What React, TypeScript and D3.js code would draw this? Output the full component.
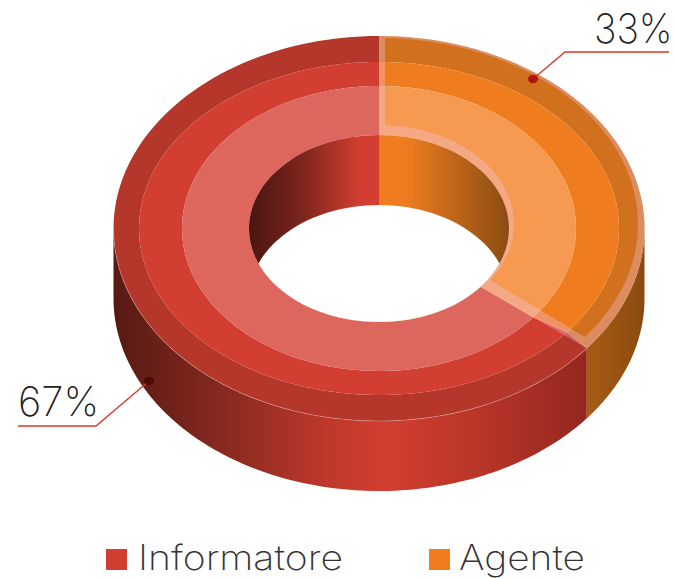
import React from "react";
import * as d3 from "d3";

const categories = ["Informatore", "Agente"];
const shares = [67, 33];
const shareLabels = ["67%", "33%"];
const redTones = { wall: "#5a1a14", rim: "#b5372b", band: "#d23e31", face: "#de675d", end: "#96281f" };
const orangeTones = { wall: "#a85c14", rim: "#d2711d", band: "#ef7d20", face: "#f59a50", end: "#8a4a10" };
const rimEllipse = [265.5, 192.5];
const bandEllipse = [240, 166.5];
const faceEllipse = [197, 142.5];
const holeEllipse = [130, 93.5];
const insetRim = [259, 186];
const insetHole = [135, 99];

const W = 674, H = 578;
const cx = 379, cy = 228.5, depth = 70, insetLift = -4.5;
// The picture's tilt stretches the 33% slice: its edge lands at 128.5° on the ellipse.
const angle = d3.scaleLinear().domain([0, shares[1], 100]).range([0, (128.5 * Math.PI) / 180, 2 * Math.PI]);
const A0 = angle(0), A1 = angle(shares[1]), A2 = angle(100);

const pt = (e: number[], a: number, dy = 0): [number, number] => [cx + e[0] * Math.sin(a), cy - e[1] * Math.cos(a) + dy];
const arcPts = (e: number[], a0: number, a1: number, dy = 0) =>
  d3.range(0, 121).map((i) => pt(e, a0 + ((a1 - a0) * i) / 120, dy));
const line = d3.line();
const sector = (o: number[], i: number[], a0: number, a1: number) =>
  line([...arcPts(o, a0, a1), ...arcPts(i, a1, a0)]) + "Z";
const wall = (e: number[], a0: number, a1: number) =>
  line([...arcPts(e, a0, a1), ...arcPts(e, a1, a0, depth)]) + "Z";
const ellipse = (e: number[], dy = 0) => line(arcPts(e, 0, 2 * Math.PI, dy)) + "Z";

// Inner outline of the pale edge on the orange slice
const insetShape =
  line([
    ...arcPts(insetRim, Math.asin(6 / insetRim[0]), Math.atan2(206 / insetRim[0], -(337 - cy - insetLift) / insetRim[1]), insetLift),
    ...arcPts(insetHole, Math.atan2(111 / insetHole[0], -(280 - cy - insetLift) / insetHole[1]), Math.asin(6 / insetHole[0]), insetLift),
  ]) + "Z";

const x = (v: number) => v / W;

function Stops({ id, stops }: { id: string; stops: [number, string][] }) {
  return (
    <linearGradient id={id} gradientUnits="userSpaceOnUse" x1={0} x2={W} y1={0} y2={0}>
      {stops.map(([p, c], i) => (
        <stop key={i} offset={x(p)} stopColor={c} />
      ))}
    </linearGradient>
  );
}

function Leader({ points, dot, label, tx, ty }: { points: [number, number][]; dot: [number, number]; label: string; tx: number; ty: number }) {
  return (
    <g>
      <path d={line(points)!} fill="none" stroke="#d93a2e" strokeWidth={1.4} />
      <ellipse cx={dot[0]} cy={dot[1]} rx={5} ry={4.2} fill={label === "33%" ? "#b3140a" : "#4a0a06"} />
      <text x={tx} y={ty} fontFamily="Inter, Lato, sans-serif" fontWeight={200} fontSize={41} fill="#222" textLength={label === "33%" ? 78.5 : 81} lengthAdjust="spacingAndGlyphs">
        {label}
      </text>
    </g>
  );
}

export default function App() {
  const bandsRed: [number[], number[], string][] = [
    [rimEllipse, bandEllipse, redTones.rim],
    [bandEllipse, faceEllipse, redTones.band],
    [faceEllipse, holeEllipse, redTones.face],
  ];
  const bandsOrange: [number[], number[], string][] = [
    [rimEllipse, bandEllipse, orangeTones.rim],
    [bandEllipse, faceEllipse, orangeTones.band],
    [faceEllipse, holeEllipse, orangeTones.face],
  ];
  const orangeTop = sector(rimEllipse, holeEllipse, A0, A1);
  return (
    <svg width={W} height={H} viewBox={`0 0 ${W} ${H}`} style={{ position: "absolute", left: 0, top: 0, background: "#fff" }}>
      <defs>
        <Stops id="wallRed" stops={[[113, "#561a13"], [230, "#8a2a20"], [330, "#c0382b"], [385, "#d23e31"], [470, "#bc362a"], [586, "#94271f"]]} />
        <Stops id="wallOrange" stops={[[586, "#a85c14"], [644, "#8a4a10"]]} />
        <Stops id="innerRed" stops={[[249, "#4a1512"], [300, "#7a241c"], [360, "#d23e31"], [379, "#d23e31"]]} />
        <Stops id="innerOrange" stops={[[379, "#ef7d20"], [405, "#ef7d20"], [509, "#8a4c12"]]} />
        <clipPath id="holeClip"><path d={ellipse(holeEllipse)} /></clipPath>
      </defs>

      <path d={wall(rimEllipse, A1, (3 * Math.PI) / 2)} fill="url(#wallRed)" />
      <path d={wall(rimEllipse, Math.PI / 2, A1)} fill="url(#wallOrange)" />

      {bandsRed.map(([o, i, c], k) => (
        <path key={k} d={sector(o, i, A1, A2)} fill={c} />
      ))}
      {bandsOrange.map(([o, i, c], k) => (
        <path key={k} d={sector(o, i, A0, A1)} fill={c} />
      ))}
      <path d={orangeTop + insetShape} fill="#f4c9ff" fillOpacity={0.3} fillRule="evenodd" />
      <path d={line(arcPts(rimEllipse, A1, (3 * Math.PI) / 2))!} fill="none" stroke="#fff" strokeOpacity={0.35} strokeWidth={0.7} />

      <g clipPath="url(#holeClip)">
        <rect x={cx - 140} y={cy - 100} width={140} height={220} fill="url(#innerRed)" />
        <rect x={cx} y={cy - 100} width={140} height={220} fill="url(#innerOrange)" />
        <path d={ellipse(holeEllipse, depth)} fill="#fff" />
      </g>

      <Leader points={[[533, 79], [565, 52], [669, 52]]} dot={[533, 79]} label={shareLabels[1]} tx={594} ty={43} />
      <Leader points={[[149, 381], [96, 426], [18, 426]]} dot={[149, 381]} label={shareLabels[0]} tx={18} ty={416} />

      <rect x={106} y={549} width={21} height={21} fill={redTones.band} />
      <text x={138} y={570} fontFamily="Inter, Lato, sans-serif" fontWeight={200} fontSize={35} fill="#333" textLength={205} lengthAdjust="spacingAndGlyphs">{categories[0]}</text>
      <rect x={429} y={549} width={21} height={21} fill={orangeTones.band} />
      <text x={459} y={570} fontFamily="Inter, Lato, sans-serif" fontWeight={200} fontSize={35} fill="#333" textLength={126} lengthAdjust="spacingAndGlyphs">{categories[1]}</text>
    </svg>
  );
}
